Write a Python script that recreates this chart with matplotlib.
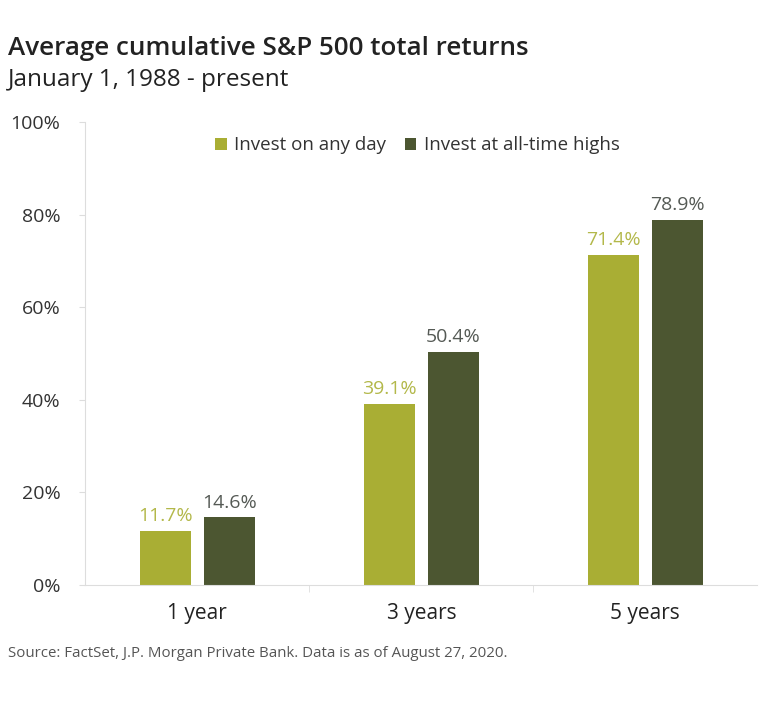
import matplotlib.pyplot as plt
import numpy as np

categories = ["1 year", "3 years", "5 years"]
any_day = [11.7, 39.1, 71.4]
ath = [14.6, 50.4, 78.9]
series_names = ["Invest on any day", "Invest at all-time highs"]
y_ticks = [0, 20, 40, 60, 80, 100]

LIGHT = "#a9ae34"
DARK = "#4c5631"
LIGHT_TXT = "#b3b84a"
DARK_TXT = "#555a55"
FONT = "Open Sans"

plt.rcParams["font.family"] = [FONT, "DejaVu Sans"]

fig = plt.figure(figsize=(7.76, 7.10), dpi=100)
ax = fig.add_axes([0.110, 0.176, 0.866, 0.652])

x = np.arange(len(categories))
w = 0.23
gap = 0.055
b1 = ax.bar(x - (w + gap) / 2, any_day, width=w, color=LIGHT, label=series_names[0])
b2 = ax.bar(x + (w + gap) / 2, ath, width=w, color=DARK, label=series_names[1])

for bar, v in zip(b1, any_day):
    ax.text(bar.get_x() + bar.get_width() / 2, v + 1.2, f"{v:.1f}%",
            ha="center", va="bottom", fontsize=14, color=LIGHT_TXT)
for bar, v in zip(b2, ath):
    ax.text(bar.get_x() + bar.get_width() / 2, v + 1.2, f"{v:.1f}%",
            ha="center", va="bottom", fontsize=14, color=DARK_TXT)

ax.set_xlim(-0.5, 2.5)
ax.set_ylim(0, 100)
ax.set_yticks(y_ticks)
ax.set_yticklabels([f"{t}%" for t in y_ticks], fontsize=14, color="#333333")
ax.set_xticks(x)
ax.set_xticklabels(categories, fontsize=15, color="#222222")
ax.set_xticks([0.5, 1.5], minor=True)
ax.tick_params(axis="x", which="major", length=0, pad=13)
ax.tick_params(axis="x", which="minor", length=5, color="#dddddd", direction="out")
ax.tick_params(axis="y", length=4, color="#dddddd", pad=14)

for side in ["top", "right"]:
    ax.spines[side].set_visible(False)
ax.spines["left"].set_color("#dddddd")
ax.spines["bottom"].set_color("#dddddd")

ax.legend(loc="center", bbox_to_anchor=(0.494, 0.95), ncol=2, frameon=False,
          fontsize=13.5, handlelength=0.6, handleheight=0.6, handletextpad=0.4,
          columnspacing=1.0, labelcolor="#333333")

fig.text(0.010, 0.932, "Average cumulative S&P 500 total returns", fontsize=18.7,
         fontweight="semibold", color="#222222", va="center")
fig.text(0.010, 0.887, "January 1, 1988 - present", fontsize=17.5,
         color="#222222", va="center")
fig.text(0.010, 0.080, "Source: FactSet, J.P. Morgan Private Bank. Data is as of August 27, 2020.",
         fontsize=10.8, color="#555555", va="center")

fig.savefig("out.png", dpi=100)
